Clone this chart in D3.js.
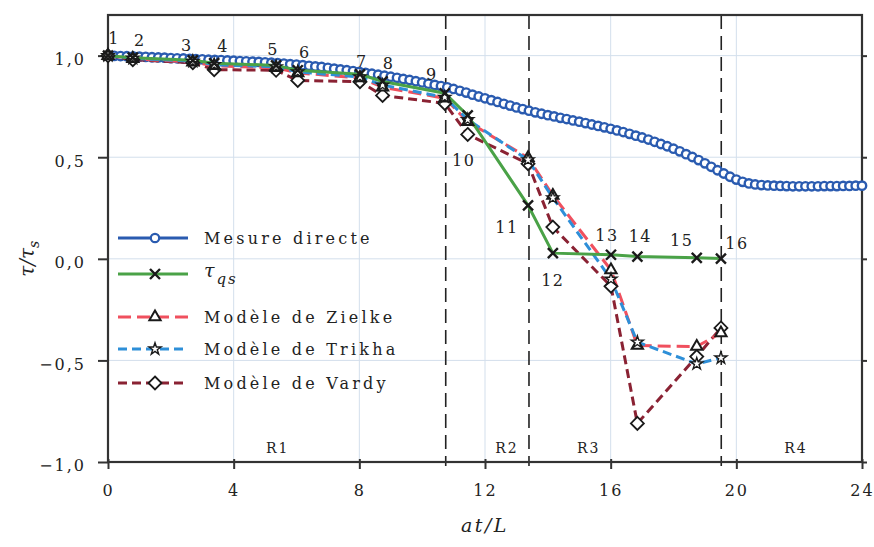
<!DOCTYPE html>
<html><head><meta charset="utf-8">
<script src="https://cdn.jsdelivr.net/npm/d3@7"></script>
<style>
html,body{margin:0;padding:0;background:#fff;}
</style></head>
<body><svg id="c" width="874" height="547"></svg>
<script>
// ---------- DATA ----------
// Measured curve, sampled every 0.2 at/L from 0 to 24
const mesStep = 0.2;
const mesValues = [
1.000,0.999,0.998,0.997,0.996,0.995,0.994,0.992,0.991,0.990,
0.988,0.987,0.986,0.984,0.983,0.982,0.980,0.979,0.978,0.976,
0.975,0.973,0.972,0.970,0.969,0.967,0.965,0.963,0.961,0.958,
0.956,0.953,0.950,0.947,0.944,0.940,0.936,0.932,0.928,0.924,
0.920,0.915,0.911,0.906,0.901,0.896,0.891,0.885,0.880,0.874,
0.868,0.862,0.856,0.850,0.844,0.836,0.827,0.818,0.808,0.799,
0.790,0.781,0.772,0.763,0.754,0.745,0.737,0.729,0.721,0.714,
0.707,0.701,0.694,0.688,0.681,0.675,0.668,0.661,0.654,0.647,
0.640,0.632,0.624,0.615,0.606,0.597,0.587,0.576,0.565,0.554,
0.542,0.529,0.515,0.501,0.486,0.470,0.453,0.436,0.420,0.404,
0.390,0.379,0.371,0.366,0.363,0.361,0.360,0.359,0.358,0.357,
0.357,0.357,0.357,0.357,0.358,0.358,0.358,0.359,0.359,0.360,
0.360];
const pointT   = [0, 0.79, 2.70, 3.38, 5.35, 6.04, 8.02, 8.74, 10.72, 11.45, 13.37, 14.16, 16.01, 16.85, 18.74, 19.51];
const pointIds = ["1","2","3","4","5","6","7","8","9","10","11","12","13","14","15","16"];
const tauQS  = [1.0, 0.990, 0.977, 0.963, 0.952, 0.928, 0.908, 0.873, 0.815, 0.706, 0.263, 0.028, 0.020, 0.011, 0.005, 0.001];
const zielke = [1.0, 0.985, 0.968, 0.950, 0.940, 0.915, 0.890, 0.845, 0.790, 0.675, 0.497, 0.312, -0.055, -0.427, -0.432, -0.365];
const trikha = [1.0, 0.987, 0.972, 0.955, 0.945, 0.920, 0.895, 0.855, 0.795, 0.685, 0.487, 0.300, -0.100, -0.410, -0.517, -0.488];
const vardy  = [1.0, 0.980, 0.965, 0.931, 0.928, 0.878, 0.872, 0.804, 0.765, 0.612, 0.468, 0.156, -0.135, -0.810, -0.481, -0.340];
const regionBounds = [10.75, 13.4, 19.52];
const regionNames  = ["R1","R2","R3","R4"];
const regionLabelT = [5.4, 12.7, 15.3, 21.9];
const xTicks = [0,4,8,12,16,20,24];
const yTicks = [-1.0,-0.5,0.0,0.5,1.0];
const legendNames = ["Mesure directe","τqs","Modèle de Zielke","Modèle de Trikha","Modèle de Vardy"];

// ---------- LAYOUT ----------
const FONT = "'DejaVu Serif', 'Liberation Serif', serif";
const svg = d3.select("#c").style("font-family", FONT);
const L=108, R=862, T=15, B=462;
const x = d3.scaleLinear().domain([0,24]).range([L,R]);
const y = d3.scaleLinear().domain([-1,1.2]).range([B,T]);
const fmt = d => d3.format(".1f")(d).replace(".",",").replace("-","-");

// grid
const grid = svg.append("g").attr("stroke","#d3dfec").attr("stroke-width",1);
grid.selectAll("line.v").data(xTicks.slice(1,-1)).join("line")
  .attr("x1",d=>x(d)).attr("x2",d=>x(d)).attr("y1",T).attr("y2",B);
grid.selectAll("line.h").data(yTicks.slice(1)).join("line")
  .attr("x1",L).attr("x2",R).attr("y1",d=>y(d)).attr("y2",d=>y(d));

// region boundary dashed lines
svg.append("g").selectAll("line").data(regionBounds).join("line")
  .attr("x1",d=>x(d)).attr("x2",d=>x(d)).attr("y1",T).attr("y2",B+4)
  .attr("stroke","#222").attr("stroke-width",1.6).attr("stroke-dasharray","14,7");
svg.append("g").selectAll("text").data(regionNames).join("text")
  .attr("x",(d,i)=>x(regionLabelT[i])).attr("y",y(-0.93)).attr("text-anchor","middle")
  .attr("dominant-baseline","central").attr("font-size",14).attr("letter-spacing",2)
  .attr("fill","#222").style("font-family",FONT).text(d=>d);

// axes
const xAxis = svg.append("g").attr("transform",`translate(0,${B})`)
  .call(d3.axisBottom(x).tickValues(xTicks).tickSize(7).tickFormat(d=>d));
xAxis.attr("font-family",null);
xAxis.select(".domain").remove();
xAxis.selectAll(".tick line").attr("stroke","#333").attr("stroke-width",2).attr("y1",-3);
xAxis.selectAll(".tick text").attr("font-size",16).attr("dy","1.5em").attr("letter-spacing",2)
  .style("font-family",FONT).attr("fill","#222");
const yAxis = svg.append("g").attr("transform",`translate(${L},0)`)
  .call(d3.axisLeft(y).tickValues(yTicks).tickSize(10).tickFormat(fmt));
yAxis.attr("font-family",null);
yAxis.select(".domain").remove();
yAxis.selectAll(".tick line").attr("stroke","#333").attr("stroke-width",2);
yAxis.selectAll(".tick text").attr("font-size",16).attr("x",-22).attr("dy","0.55em").attr("letter-spacing",2)
  .style("font-family",FONT).attr("fill","#222");
const yAxisR = svg.append("g").attr("transform",`translate(${R},0)`)
  .call(d3.axisRight(y).tickValues(yTicks).tickSize(5).tickFormat(""));
yAxisR.select(".domain").remove();
yAxisR.selectAll(".tick line").attr("stroke","#333").attr("stroke-width",2);
svg.append("rect").attr("x",L).attr("y",T).attr("width",R-L).attr("height",B-T)
  .attr("fill","none").attr("stroke","#333").attr("stroke-width",2.2);

// axis titles
svg.append("text").attr("x",x(12)).attr("y",532).attr("text-anchor","middle").attr("fill","#222")
  .attr("font-size",19).attr("font-style","italic").attr("letter-spacing",2.5).text("at/L");
const yt = svg.append("text").attr("transform",`translate(34,${y(0)}) rotate(-90)`).attr("fill","#222")
  .attr("text-anchor","middle").attr("font-size",20).attr("font-style","italic");
yt.append("tspan").text("τ/τ");
yt.append("tspan").attr("font-size",14).attr("dy",5).text("s");

// ---------- SERIES ----------
const mesData = mesValues.map((v,i)=>({t:i*mesStep, v}));
const pts = arr => arr.map((v,i)=>({t:pointT[i], v}));
const line = d3.line().x(d=>x(d.t)).y(d=>y(d.v));

const C = {mes:"#2a5bb0", qs:"#4aa247", zie:"#f0505e", tri:"#2e8fd8", var:"#8a2233"};

// measured circles
svg.append("g").selectAll("circle").data(mesData).join("circle")
  .attr("cx",d=>x(d.t)).attr("cy",d=>y(d.v)).attr("r",4.2)
  .attr("fill","#fff").attr("stroke",C.mes).attr("stroke-width",2.4);

svg.append("path").datum(pts(vardy)).attr("d",line).attr("fill","none")
  .attr("stroke",C.var).attr("stroke-width",3).attr("stroke-dasharray","9,5");
svg.append("path").datum(pts(zielke)).attr("d",line).attr("fill","none")
  .attr("stroke",C.zie).attr("stroke-width",3).attr("stroke-dasharray","13,6");
svg.append("path").datum(pts(trikha)).attr("d",line).attr("fill","none")
  .attr("stroke",C.tri).attr("stroke-width",3).attr("stroke-dasharray","9,5");
svg.append("path").datum(pts(tauQS)).attr("d",line).attr("fill","none")
  .attr("stroke",C.qs).attr("stroke-width",3);

// marker shapes
const xMark = s => `M${-s},${-s}L${s},${s}M${-s},${s}L${s},${-s}`;
const diamond = s => `M0,${-s}L${s},0L0,${s}L${-s},0Z`;
const tri = d3.symbol().type(d3.symbolTriangle).size(55);
const star = d3.symbol().type(d3.symbolStar).size(45);

function drawMarkers(g, data, kind){
  const sel = g.selectAll("path").data(data).join("path")
    .attr("transform",d=>`translate(${x(d.t)},${y(d.v)})`);
  styleMarker(sel, kind);
}
function styleMarker(sel, kind){
  if(kind==="x") sel.attr("d",xMark(5)).attr("stroke","#1a1a1a").attr("stroke-width",2.4).attr("fill","none");
  if(kind==="tri") sel.attr("d",tri()).attr("stroke","#1a1a1a").attr("stroke-width",2).attr("fill","#fff");
  if(kind==="star") sel.attr("d",star()).attr("stroke","#1a1a1a").attr("stroke-width",1.4).attr("fill","#fff");
  if(kind==="dia") sel.attr("d",diamond(6.5)).attr("stroke","#1a1a1a").attr("stroke-width",1.8).attr("fill","#fff");
}
drawMarkers(svg.append("g"), pts(vardy), "dia");
drawMarkers(svg.append("g"), pts(zielke), "tri");
drawMarkers(svg.append("g"), pts(trikha), "star");
drawMarkers(svg.append("g"), pts(tauQS), "x");

// point labels (pixel offsets from each τqs point)
const labelOffsets = [[6,-17],[7,-17],[-6,-15],[9,-17],[-3,-16],[7,-18],[2,-13],[6,-18],[-13,-19],
  [-4,45],[-21,22],[0,27],[-4,-19],[3,-20],[-15,-17],[16,-15]];
svg.append("g").selectAll("text").data(pts(tauQS)).join("text")
  .attr("x",(d,i)=>x(d.t)+labelOffsets[i][0]).attr("y",(d,i)=>y(d.v)+labelOffsets[i][1])
  .attr("text-anchor","middle").attr("dominant-baseline","central").attr("fill","#222")
  .attr("font-size",16).attr("letter-spacing",1.5).text((d,i)=>pointIds[i]);

// ---------- LEGEND ----------
const legY = [238, 274, 317, 349, 383];
const legKinds = [null,"x","tri","star","dia"];
const legCols = [C.mes,C.qs,C.zie,C.tri,C.var];
const legDash = [null,null,"13,6","9,5","9,5"];
const lg = svg.append("g");
legendNames.forEach((name,i)=>{
  const g = lg.append("g").attr("transform",`translate(0,${legY[i]})`);
  g.append("line").attr("x1",118).attr("x2",188).attr("y1",0).attr("y2",0)
    .attr("stroke",legCols[i]).attr("stroke-width",3).attr("stroke-dasharray",legDash[i]);
  if(i===0){
    g.append("circle").attr("cx",155).attr("cy",0).attr("r",4.2).attr("fill","#fff")
      .attr("stroke",C.mes).attr("stroke-width",2.2);
  } else {
    styleMarker(g.append("path").attr("transform","translate(155,0)"), legKinds[i]);
  }
  const t = g.append("text").attr("x",204).attr("y",0).attr("dominant-baseline","central")
    .attr("fill","#222").attr("font-size",16).attr("letter-spacing",3.2);
  if(i===1){
    t.attr("font-style","italic").attr("letter-spacing",2);
    t.append("tspan").attr("font-size",19).attr("dy",-4).text("τ");
    t.append("tspan").attr("font-size",15).attr("dy",9).text("qs");
  } else t.text(name);
});
</script></body></html>
